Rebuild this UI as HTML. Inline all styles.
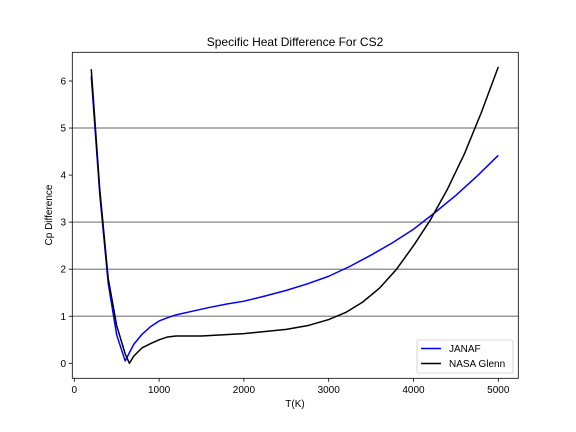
<!DOCTYPE html>
<html><head><meta charset="utf-8"><style>
body{margin:0;background:#fff}
svg{display:block;font-family:"Liberation Sans","DejaVu Sans",sans-serif}
</style></head><body>
<svg id="chart" width="576" height="432" viewBox="0 0 576 432">
<rect width="576" height="432" fill="#fff"/>
<text x="295" y="46" font-size="12" text-anchor="middle">Specific Heat Difference For CS2</text>
<g id="grid"></g>
<g id="series"></g>
<rect x="72.3" y="52.3" width="446" height="326" fill="none" stroke="#000" stroke-width="0.8"/>
<g id="xticks"></g><g id="yticks"></g>
<text x="295" y="407" font-size="10" text-anchor="middle">T(K)</text>
<text x="0" y="0" font-size="10" text-anchor="middle" transform="translate(52,215) rotate(-90)">Cp Difference</text>
<g>
<rect x="417" y="340" width="96" height="33" rx="2" fill="#fff" fill-opacity="0.8" stroke="#ccc" stroke-width="0.8"/>
<line x1="421" y1="348.5" x2="441" y2="348.5" stroke="#0000ff" stroke-width="1.5"/>
<text x="449" y="352" font-size="10">JANAF</text>
<line x1="421" y1="363.5" x2="441" y2="363.5" stroke="#000" stroke-width="1.5"/>
<text x="449" y="367" font-size="10">NASA Glenn</text>
</g>
</svg>
<script>
const janafT=[200,300,400,500,600,700,800,900,1000,1100,1200,1400,1600,1800,2000,2250,2500,2750,3000,3250,3500,3750,4000,4250,4500,4750,5000];
const janafCp=[6.1,3.6,1.7,0.6,0.05,0.4,0.62,0.78,0.9,0.97,1.03,1.11,1.19,1.26,1.32,1.43,1.55,1.69,1.85,2.06,2.3,2.56,2.85,3.2,3.57,3.98,4.42];
const nasaT=[200,300,400,500,600,650,700,800,900,1000,1100,1200,1500,2000,2500,2750,3000,3200,3400,3600,3800,4000,4200,4400,4600,4800,5000];
const nasaCp=[6.25,3.7,1.8,0.8,0.2,0.0,0.15,0.33,0.42,0.5,0.56,0.58,0.58,0.63,0.72,0.8,0.93,1.08,1.3,1.6,2.0,2.5,3.05,3.7,4.45,5.33,6.3];
const xTicks=[0,1000,2000,3000,4000,5000];
const yTicks=[0,1,2,3,4,5,6];
const hLines=[1,2,3,5];
const NS="http://www.w3.org/2000/svg";
const xs=v=>74.3+v*0.0848;
const ys=v=>363.3-v*47.05;
function mk(tag,attrs,parent){const e=document.createElementNS(NS,tag);for(const k in attrs)e.setAttribute(k,attrs[k]);document.getElementById(parent).appendChild(e);return e;}
hLines.forEach(v=>{
 const l=mk('line',{x1:72.3,x2:518.3,y1:ys(v),y2:ys(v),stroke:'#999',"stroke-width":1.5},'grid');
 
 
});
function series(T,C,color,name){
 const p=mk('polyline',{points:T.map((t,i)=>xs(t)+','+ys(C[i])).join(' '),fill:'none',stroke:color,"stroke-width":1.5,"stroke-linejoin":"round"},'series');
 
 
}
series(janafT,janafCp,'#0000ff','janaf-line');
series(nasaT,nasaCp,'#000','nasa-glenn-line');
xTicks.forEach(v=>{
 const l=mk('line',{x1:xs(v),x2:xs(v),y1:378.3,y2:381.8,stroke:'#000',"stroke-width":0.8},'xticks');
 
 
 const t=mk('text',{x:xs(v),y:393,"font-size":10,"text-anchor":"middle"},'xticks');
 t.textContent=v;
 
 
});
yTicks.forEach(v=>{
 const l=mk('line',{x1:68.8,x2:72.3,y1:ys(v),y2:ys(v),stroke:'#000',"stroke-width":0.8},'yticks');
 
 
 const t=mk('text',{x:66,y:ys(v)+3.5,"font-size":10,"text-anchor":"end"},'yticks');
 t.textContent=v;
 
 
});
</script>
</body></html>
